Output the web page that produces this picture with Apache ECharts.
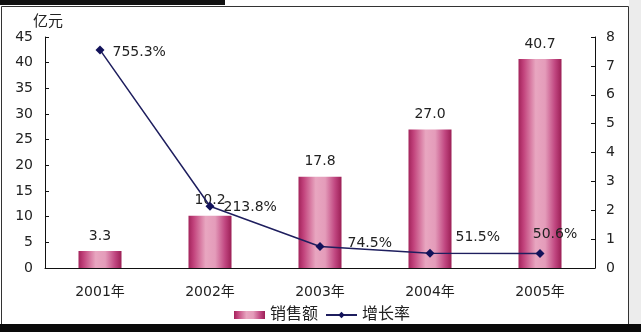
<!DOCTYPE html>
<html>
<head>
<meta charset="utf-8">
<script src="https://cdn.jsdelivr.net/npm/echarts@6/dist/echarts.min.js"></script>
<style>
html,body{margin:0;padding:0;background:#fff;}
#c{width:641px;height:332px;}
</style>
</head>
<body>
<div id="c"></div>
<script>
const categories = ['2001年', '2002年', '2003年', '2004年', '2005年'];
const sales = [3.3, 10.2, 17.8, 27.0, 40.7];           // 亿元
const growthPct = [755.3, 213.8, 74.5, 51.5, 50.6];     // %
const growthAxis = growthPct.map(v => v / 100);         // right axis scale (x100%)
const leftTicks = { min: 0, max: 45, interval: 5 };
const rightTicks = { min: 0, max: 8, interval: 1 };

const FONT = '"DejaVu Sans", "Noto Sans CJK SC", sans-serif';
const TXT = '#222';

// label placement styles for the line points (style only)
const lineLabelStyles = [
  { position: 'right', distance: 8, offset: [0, 2] },
  { position: 'right', distance: 9, offset: [0, 1] },
  { position: 'right', distance: 23, offset: [0, -3] },
  { position: 'right', distance: 21, offset: [0, -16] },
  { position: 'top', distance: 8, offset: [15, 0] }
];

const barGradient = new echarts.graphic.LinearGradient(0, 0, 1, 0, [
  { offset: 0, color: '#a3235b' },
  { offset: 0.12, color: '#c2437c' },
  { offset: 0.4, color: '#e8a6c0' },
  { offset: 0.62, color: '#e49cba' },
  { offset: 0.85, color: '#c04680' },
  { offset: 1, color: '#9c1f55' }
]);

const chart = echarts.init(document.getElementById('c'), null, { renderer: 'canvas' });
chart.setOption({
  animation: false,
  backgroundColor: '#fff',
  textStyle: { fontFamily: FONT, color: TXT },
  grid: { left: 45, right: 46, top: 37, bottom: 64 },
  legend: {
    left: 229, top: 302,
    itemWidth: 31, itemHeight: 8, itemGap: 7,
    textStyle: { fontFamily: FONT, fontSize: 16, color: TXT },
    data: [
      { name: '销售额', icon: 'rect' },
      { name: '增长率' }
    ]
  },
  xAxis: {
    type: 'category',
    data: categories,
    axisLine: { lineStyle: { color: '#111', width: 1 } },
    axisTick: { inside: true, length: 4, lineStyle: { color: '#111' } },
    axisLabel: { fontFamily: FONT, fontSize: 14, color: TXT, margin: 17 }
  },
  yAxis: [
    {
      type: 'value', min: leftTicks.min, max: leftTicks.max, interval: leftTicks.interval,
      splitLine: { show: false },
      axisLine: { show: true, lineStyle: { color: '#111' } },
      axisTick: { show: true, inside: true, length: 4, lineStyle: { color: '#111' } },
      axisLabel: { fontFamily: FONT, fontSize: 14, color: TXT, margin: 12 }
    },
    {
      type: 'value', min: rightTicks.min, max: rightTicks.max, interval: rightTicks.interval,
      position: 'right',
      splitLine: { show: false },
      axisLine: { show: true, lineStyle: { color: '#111' } },
      axisTick: { show: true, inside: true, length: 4, lineStyle: { color: '#111' } },
      axisLabel: { fontFamily: FONT, fontSize: 14, color: TXT, margin: 11 }
    }
  ],
  series: [
    {
      name: '销售额',
      type: 'bar',
      yAxisIndex: 0,
      barWidth: 43,
      data: sales,
      itemStyle: { color: barGradient },
      label: {
        show: true, position: 'top', distance: 8,
        fontFamily: FONT, fontSize: 14, color: TXT,
        formatter: p => p.value.toFixed(1)
      }
    },
    {
      name: '增长率',
      type: 'line',
      yAxisIndex: 1,
      symbol: 'diamond',
      symbolSize: 9,
      lineStyle: { color: '#1e1e5e', width: 1.5 },
      itemStyle: { color: '#12125a' },
      data: growthAxis.map((v, i) => ({
        value: v,
        label: Object.assign({
          show: true, fontFamily: FONT, fontSize: 14, color: TXT,
          formatter: growthPct[i].toFixed(1) + '%'
        }, lineLabelStyles[i])
      }))
    }
  ],
  graphic: [
    { type: 'rect', shape: { x: 1.5, y: 6.5, width: 627, height: 318 }, style: { fill: 'none', stroke: '#333', lineWidth: 1 }, z: 100 },
    { type: 'rect', shape: { x: 629, y: 0, width: 12, height: 332 }, style: { fill: '#ececec' }, z: 99 },
    { type: 'rect', shape: { x: 0, y: 0, width: 225, height: 5 }, style: { fill: '#111' }, z: 100 },
    { type: 'rect', shape: { x: 0, y: 324, width: 641, height: 8 }, style: { fill: '#0a0a0a' }, z: 100 },
    { type: 'text', left: 33, top: 13, style: { text: '亿元', font: '15px "Noto Sans CJK SC", sans-serif', fill: TXT }, z: 100 }
  ]
});
</script>
</body>
</html>
